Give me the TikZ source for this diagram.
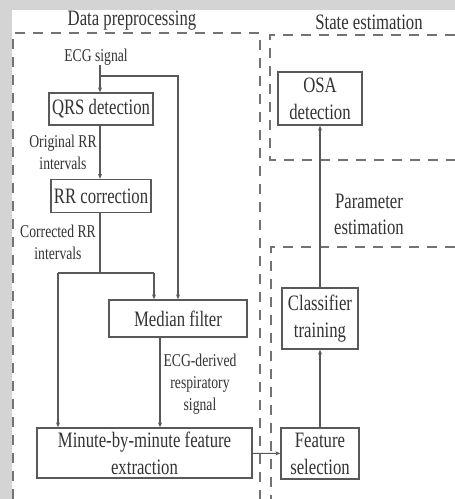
\documentclass[tikz,border=0pt]{standalone}
\usepackage{fontspec}
\setmainfont{Liberation Serif}[FakeStretch=0.76]
\usetikzlibrary{positioning,arrows.meta}

\tikzset{
  block/.style={draw=black!65, line width=1.3pt, fill=white, text=black!80,
    font=\fontsize{22}{27}\selectfont, align=center, inner sep=0pt},
  lbl/.style={text=black!80, font=\fontsize{18}{22}\selectfont, align=center, inner sep=0pt},
  ttl/.style={text=black!80, font=\fontsize{22}{26}\selectfont, align=center, inner sep=0pt},
  flow/.style={draw=black!65, line width=1.1pt, -{Stealth[length=5pt,width=4pt]}},
  link/.style={draw=black!65, line width=1.1pt},
  region/.style={draw=black!55, line width=1.5pt, dash pattern=on 10pt off 8pt}
}

\begin{document}
\begin{tikzpicture}[x=1pt,y=-1pt]
  \useasboundingbox (0,0) rectangle (455,499);
  % backdrop
  \fill[white] (0,0) rectangle (455,499);
  \fill[black!17] (0,0) rectangle (12,499);
  \shade[left color=black!17, middle color=orange!12, right color=black!17] (12,0) rectangle (455,9);

  % region frames
  \draw[region] (13,499) -- (13,33) -- (260,33) -- (260,499);
  \draw[region] (455,35) -- (270,35) -- (270,160) -- (455,160);
  \draw[region] (455,247) -- (271,247) -- (271,499);
  \node[ttl] (prep) at (132,21) {Data preprocessing};
  \node[ttl] (state) at (369,22) {State estimation};
  \node[ttl] (param) at (369,214) {Parameter\\estimation};

  % preprocessing chain
  \node[lbl] (ecg) at (96,57) {ECG signal};
  \node[block, minimum width=104pt, minimum height=32pt] (qrs) at (101,109) {QRS detection};
  \node[lbl] (orig) at (63,152) {Original RR\\intervals};
  \node[block, minimum width=100pt, minimum height=33pt] (rrc) at (101,196) {RR correction};
  \node[lbl] (corr) at (58,242) {Corrected RR\\intervals};
  \node[block, minimum width=138pt, minimum height=37pt] (median) at (178,318.5) {Median filter};
  \node[lbl] (edr) at (200,384) {ECG-derived\\respiratory\\signal};
  \node[block, minimum width=215pt, minimum height=50pt] (minute) at (144.5,453) {Minute-by-minute feature\\extraction};

  % model chain
  \node[block, minimum width=78pt, minimum height=51pt] (feat) at (320,453.5) {Feature\\selection};
  \node[block, minimum width=76pt, minimum height=61pt] (clf) at (320,318.5) {Classifier\\training};
  \node[block, minimum width=84pt, minimum height=53pt] (osa) at (320,98.5) {OSA\\detection};

  \coordinate (split) at (100,76);
  \coordinate (join) at (100,273);
  \coordinate (joinL) at (58,273);
  \coordinate (joinR) at (154,273);

  \draw[link] (ecg.south -| split) -- (split);
  \draw[flow] (split) -- (split |- qrs.north);
  \draw[flow] (split) -| (178,0 |- median.north);
  \draw[flow] (qrs.south -| 100,0) -- (rrc.north -| 100,0);
  \draw[link] (rrc.south -| join) -- (join);
  \draw[link] (joinL) -- (joinR);
  \draw[flow] (joinL) -- (joinL |- minute.north);
  \draw[flow] (joinR) -- (joinR |- median.north);
  \draw[flow] (median.south -| 160,0) -- (minute.north -| 160,0);
  \draw[flow] (minute) -- (feat);
  \draw[flow] (feat) -- (clf);
  \draw[flow] (clf) -- (osa);
\end{tikzpicture}
\end{document}
